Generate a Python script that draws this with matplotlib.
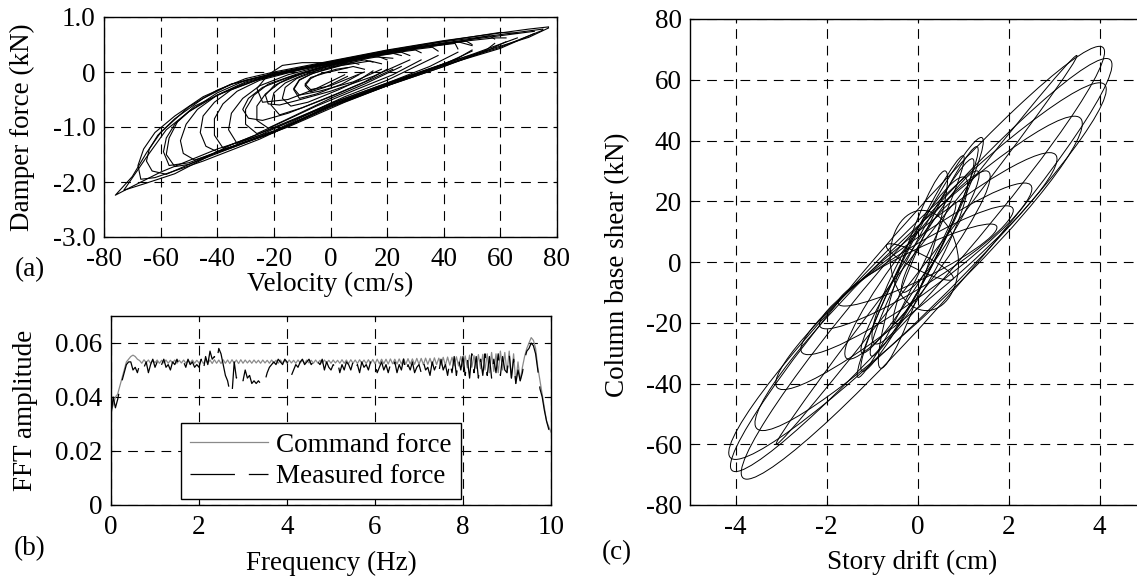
import numpy as np
import matplotlib
matplotlib.use('Agg')
import matplotlib.pyplot as plt
from matplotlib.patches import Ellipse
from matplotlib.transforms import Affine2D

plt.rcParams['font.family'] = ['Liberation Serif', 'DejaVu Serif']
plt.rcParams['axes.unicode_minus'] = False
plt.rcParams['lines.scale_dashes'] = False

# ---------------- (a) damper force vs velocity, loops
damper_v = [
    [77, 70, 60, 40, 20, 0, -20, -30, -40, -50, -60, -65, -70, -76, -70, -60, -40, -20, 0, 20, 40, 60, 70, 77],
    [75, 60, 40, 20, 0, -20, -30, -40, -50, -58, -65, -73, -65, -55, -40, -20, 0, 20, 40, 60, 75],
    [72, 60, 40, 20, 0, -20, -35, -45, -55, -61, -64, -65, -63, -58, -50, -40, -20, 0, 20, 40, 60, 72],
    [66, 60, 40, 20, 0, -20, -35, -45, -55, -62, -66, -68, -67, -62, -45, -25, 0, 25, 50, 66],
    [62, 58, 40, 20, 0, -20, -30, -40, -50, -55, -58, -59, -57, -50, -40, -20, 0, 20, 40, 55, 62],
    [58, 56, 40, 20, 0, -20, -30, -40, -47, -51, -53, -52, -48, -45, -35, -20, 0, 20, 40, 55, 58],
    [50, 45, 30, 10, -10, -25, -38, -48, -54, -57, -58, -55, -50, -35, -15, 5, 25, 45, 50],
    [50, 48, 30, 10, -10, -25, -35, -41, -45, -46, -44, -40, -35, -20, 0, 20, 40, 50],
    [45, 44, 30, 10, -10, -25, -33, -38, -41, -41, -38, -30, -15, 0, 20, 35, 45],
    [38, 36, 20, 0, -15, -25, -31, -35, -36, -33, -25, -10, 5, 20, 32, 38],
    [32, 30, 15, 0, -12, -22, -27, -30, -30, -26, -20, -5, 10, 22, 32],
    [28, 25, 10, -5, -15, -20, -23, -22, -18, -12, 0, 15, 28],
    [25, 22, 10, 0, -10, -18, -23, -26, -26, -22, -15, 0, 12, 25],
    [22, 15, 0, -15, -24, -29, -31, -29, -24, -15, 0, 15, 22],
    [20, 17, 8, -2, -10, -16, -20, -21, -18, -10, 2, 12, 20],
    [18, 14, 4, -6, -11, -13, -11, -4, 8, 18],
    [15, 12, 4, -5, -12, -16, -17, -14, -8, 3, 10, 15],
    [12, 8, -2, -7, -9, -7, 0, 12],
    [10, 8, 0, -7, -11, -13, -11, -5, 4, 10],
    [6, 2, -4, -7, -9, -7, -2, 6],
    [5, -4, -10, -17, -22, -26, -24, -15, -5, 5],
]
damper_f = [
    [0.82, 0.78, 0.71, 0.57, 0.40, 0.20, 0.00, -0.12, -0.33, -0.63, -1.10, -1.47, -1.90, -2.24, -2.08, -1.82, -1.40, -1.07, -0.57, -0.20, 0.15, 0.47, 0.63, 0.80],
    [0.78, 0.68, 0.55, 0.38, 0.18, -0.03, -0.15, -0.38, -0.72, -1.05, -1.55, -2.15, -2.02, -1.85, -1.45, -1.10, -0.60, -0.22, 0.13, 0.45, 0.76],
    [0.74, 0.66, 0.53, 0.37, 0.17, -0.04, -0.22, -0.48, -0.85, -1.15, -1.40, -1.62, -1.80, -1.86, -1.68, -1.45, -1.08, -0.62, -0.24, 0.12, 0.43, 0.70],
    [0.70, 0.72, 0.56, 0.39, 0.19, -0.02, -0.22, -0.45, -0.80, -1.10, -1.40, -1.70, -1.95, -1.92, -1.62, -1.22, -0.62, -0.12, 0.32, 0.62],
    [0.62, 0.62, 0.52, 0.36, 0.16, -0.05, -0.18, -0.42, -0.72, -0.95, -1.20, -1.45, -1.70, -1.65, -1.45, -1.10, -0.64, -0.25, 0.10, 0.38, 0.55],
    [0.60, 0.66, 0.50, 0.35, 0.15, -0.06, -0.20, -0.42, -0.68, -0.95, -1.25, -1.48, -1.60, -1.55, -1.38, -1.08, -0.62, -0.25, 0.10, 0.40, 0.52],
    [0.48, 0.55, 0.45, 0.28, 0.07, -0.13, -0.38, -0.62, -0.90, -1.20, -1.50, -1.72, -1.68, -1.38, -1.00, -0.55, -0.15, 0.25, 0.40],
    [0.50, 0.56, 0.44, 0.27, 0.06, -0.12, -0.32, -0.55, -0.80, -1.10, -1.35, -1.45, -1.32, -1.02, -0.60, -0.22, 0.14, 0.38],
    [0.42, 0.52, 0.43, 0.26, 0.05, -0.15, -0.35, -0.58, -0.85, -1.15, -1.38, -1.22, -0.90, -0.58, -0.20, 0.10, 0.36],
    [0.38, 0.45, 0.35, 0.15, -0.05, -0.25, -0.48, -0.75, -1.05, -1.30, -1.15, -0.80, -0.45, -0.15, 0.15, 0.30],
    [0.35, 0.40, 0.30, 0.14, -0.04, -0.22, -0.42, -0.68, -0.95, -1.12, -0.98, -0.62, -0.30, -0.05, 0.22],
    [0.30, 0.36, 0.24, 0.06, -0.12, -0.25, -0.42, -0.58, -0.60, -0.52, -0.35, -0.08, 0.22],
    [0.30, 0.34, 0.25, 0.13, -0.03, -0.20, -0.40, -0.62, -0.88, -1.02, -0.85, -0.48, -0.22, 0.10],
    [0.25, 0.28, 0.12, -0.10, -0.28, -0.48, -0.68, -0.84, -0.88, -0.75, -0.45, -0.12, 0.05],
    [0.22, 0.28, 0.20, 0.08, -0.06, -0.20, -0.38, -0.60, -0.78, -0.65, -0.40, -0.18, 0.05],
    [0.15, 0.20, 0.12, -0.02, -0.14, -0.30, -0.42, -0.35, -0.18, 0.05],
    [0.18, 0.22, 0.14, 0.02, -0.12, -0.28, -0.48, -0.62, -0.55, -0.32, -0.15, 0.02],
    [0.05, 0.10, -0.02, -0.10, -0.22, -0.32, -0.25, 0.00],
    [0.14, 0.17, 0.08, -0.04, -0.15, -0.32, -0.48, -0.40, -0.22, -0.05],
    [0.08, 0.05, -0.04, -0.12, -0.25, -0.36, -0.28, -0.08],
    [0.15, 0.17, 0.17, 0.12, -0.05, -0.30, -0.55, -0.50, -0.30, -0.05],
]
vel_ticks = [-80, -60, -40, -20, 0, 20, 40, 60, 80]
force_ticks = [-3, -2, -1, 0, 1]
force_labels = ['-3.0', '-2.0', '-1.0', '0', '1.0']

# ---------------- (b) FFT amplitude, sampled every 0.05 Hz from 0 to 10 Hz
freq_step = 0.05
command_amp = [
    0.035, 0.037, 0.040, 0.041, 0.044, 0.047, 0.050, 0.053, 0.054, 0.055,
    0.0555, 0.055, 0.054, 0.0535, 0.0525, 0.0538, 0.0527, 0.0537, 0.0525, 0.0536,
    0.0527, 0.0537, 0.0525, 0.0536, 0.0526, 0.0537, 0.0525, 0.0536, 0.0526, 0.0537,
    0.0525, 0.0536, 0.0526, 0.0537, 0.0525, 0.0536, 0.0526, 0.0537, 0.0525, 0.0536,
    0.0526, 0.0537, 0.0524, 0.0538, 0.0525, 0.0537, 0.0524, 0.0538, 0.0525, 0.0537,
    0.0524, 0.0538, 0.0525, 0.0537, 0.0524, 0.0538, 0.0525, 0.0537, 0.0524, 0.0538,
    0.0525, 0.0537, 0.0526, 0.0536, 0.0525, 0.0537, 0.0526, 0.0536, 0.0525, 0.0537,
    0.0526, 0.0536, 0.0525, 0.0537, 0.0526, 0.0536, 0.0525, 0.0537, 0.0526, 0.0536,
    0.0525, 0.0537, 0.0526, 0.0536, 0.0525, 0.0537, 0.0526, 0.0536, 0.0525, 0.0537,
    0.0526, 0.0536, 0.0525, 0.0537, 0.0526, 0.0536, 0.0525, 0.0537, 0.0526, 0.0536,
    0.0525, 0.0537, 0.0526, 0.0536, 0.0525, 0.0538, 0.0525, 0.0537, 0.0524, 0.0538,
    0.0525, 0.0537, 0.0524, 0.0538, 0.0525, 0.0537, 0.0524, 0.0538, 0.0524, 0.0539,
    0.0523, 0.0540, 0.0523, 0.0540, 0.0523, 0.0540, 0.0522, 0.0541, 0.0523, 0.0540,
    0.0522, 0.0541, 0.0522, 0.0542, 0.0521, 0.0542, 0.0522, 0.0541, 0.0521, 0.0543,
    0.0521, 0.0543, 0.0520, 0.0544, 0.0521, 0.0543, 0.0519, 0.0545, 0.0520, 0.0544,
    0.0518, 0.0547, 0.0517, 0.0548, 0.0518, 0.0547, 0.0516, 0.0549, 0.0515, 0.0550,
    0.0512, 0.0552, 0.0508, 0.0555, 0.0510, 0.0553, 0.0506, 0.0557, 0.0505, 0.0558,
    0.0500, 0.0560, 0.0490, 0.0565, 0.0495, 0.0560, 0.0490, 0.0570, 0.0500, 0.0565,
    0.0490, 0.0570, 0.0470, 0.0560, 0.0450, 0.0530, 0.0460, 0.0510, 0.0550, 0.0580,
    0.0600, 0.0620, 0.0610, 0.0580, 0.0510, 0.0460, 0.0410, 0.0360, 0.0310, 0.0290,
    0.0270,
]
measured_amp = [
    0.033, 0.040, 0.036, 0.039, 0.043, 0.046, 0.049, 0.052, 0.053, 0.053,
    0.050, 0.051, 0.049, 0.052, 0.050, 0.051, 0.053, 0.049, 0.052, 0.054,
    0.051, 0.053, 0.050, 0.052, 0.054, 0.051, 0.052, 0.050, 0.053, 0.052,
    0.054, 0.051, 0.052, 0.053, 0.051, 0.054, 0.052, 0.053, 0.051, 0.052,
    0.051, 0.054, 0.050, 0.055, 0.052, 0.057, 0.054, 0.055, 0.053, 0.058,
    0.056, 0.052, 0.048, 0.046, 0.042, 0.041, 0.053, 0.047, 0.049, 0.048,
    0.046, 0.050, 0.047, 0.048, 0.045, 0.046, 0.045, 0.046, 0.045, 0.047,
    0.046, 0.049, 0.051, 0.052, 0.053, 0.052, 0.054, 0.053, 0.052, 0.054,
    0.053, 0.052, 0.048, 0.050, 0.052, 0.051, 0.053, 0.054, 0.052, 0.053,
    0.054, 0.052, 0.053, 0.051, 0.053, 0.052, 0.054, 0.050, 0.053, 0.051,
    0.050, 0.052, 0.051, 0.053, 0.049, 0.052, 0.050, 0.053, 0.052, 0.050,
    0.053, 0.050, 0.052, 0.049, 0.053, 0.051, 0.052, 0.050, 0.053, 0.051,
    0.052, 0.049, 0.051, 0.053, 0.050, 0.052, 0.049, 0.052, 0.050, 0.053,
    0.049, 0.052, 0.050, 0.054, 0.049, 0.052, 0.050, 0.053, 0.049, 0.051,
    0.052, 0.049, 0.053, 0.050, 0.051, 0.048, 0.053, 0.050, 0.052, 0.049,
    0.054, 0.050, 0.052, 0.048, 0.053, 0.049, 0.055, 0.048, 0.054, 0.050,
    0.055, 0.048, 0.054, 0.047, 0.056, 0.049, 0.055, 0.047, 0.054, 0.048,
    0.056, 0.048, 0.055, 0.047, 0.054, 0.049, 0.056, 0.048, 0.055, 0.050,
    0.049, 0.056, 0.047, 0.054, 0.045, 0.050, 0.046, 0.049, 0.054, 0.057,
    0.058, 0.060, 0.059, 0.056, 0.050, 0.043, 0.040, 0.035, 0.031, 0.028,
    0.027,
]
freq_ticks = [0, 2, 4, 6, 8, 10]
amp_ticks = [0, 0.02, 0.04, 0.06]
amp_labels = ['0', '0.02', '0.04', '0.06']

# ---------------- (c) base shear vs drift: loop tips (top, bottom) and half width in drift
loop_top_x = [4.0, 4.15, 4.0, 3.45, 2.9, 2.35, 1.95, 1.6, 3.5, 1.4, 1.2, 1.0, 0.1, -0.6, 1.5, 0.8, 1.3, 1.0, 0.6, 1.3]
loop_top_y = [71, 67, 59, 48, 36, 26, 18.5, 12.5, 68, 41, 34, 28, 17, 6, 30, 20, 38, 35, 30, 30]
loop_bot_x = [-4.0, -3.75, -4.0, -3.4, -2.95, -2.4, -2.0, -1.6, -3.1, -1.2, -1.0, -0.9, 0.2, 0.7, -1.5, -1.2, -0.5, -1.3, -0.8, -0.3]
loop_bot_y = [-69, -71.5, -65, -55.5, -42, -30.5, -22, -14.5, -60, -36, -31, -27, -16, -6, -32, -30, -20, -38, -35, -10]
loop_half_w = [0.95, 1.0, 1.1, 1.1, 1.0, 0.9, 0.8, 0.7, 0.2, 0.35, 0.3, 0.45, 0.75, 0.35, 0.55, 0.3, 0.25, 0.25, 0.3, 0.3]
drift_ticks = [-4, -2, 0, 2, 4]
shear_ticks = [-80, -60, -40, -20, 0, 20, 40, 60, 80]

W, H = 1137, 580
fig = plt.figure(figsize=(W / 100, H / 100), dpi=100)
ax_a = fig.add_axes([104 / W, 1 - 237 / H, 453 / W, 220 / H])
ax_b = fig.add_axes([111 / W, 75 / H, 440 / W, 189 / H])
ax_c = fig.add_axes([690 / W, 75 / H, 455 / W, 486 / H])

tick_fs = 19.5
label_fs = 19.5


def style(ax):
    ax.grid(True, color='black', linestyle=(0, (7, 5)), linewidth=0.8)
    ax.set_axisbelow(True)
    ax.tick_params(direction='in', length=3, top=True, right=True,
                   labelsize=tick_fs, width=0.8)
    ax.tick_params(axis='x', pad=7)
    ax.tick_params(axis='y', pad=6)
    for s in ax.spines.values():
        s.set_linewidth(1.0)


# (a)
for v, f in zip(damper_v, damper_f):
    ax_a.plot(v, f, color='black', lw=0.8)
ax_a.set_xlim(-80, 80)
ax_a.set_ylim(-3, 1)
ax_a.set_xticks(vel_ticks)
ax_a.set_yticks(force_ticks)
ax_a.set_yticklabels(force_labels)
style(ax_a)
ax_a.set_xlabel('Velocity (cm/s)', fontsize=label_fs, va='center')
ax_a.set_ylabel('Damper force (kN)', fontsize=label_fs, va='center')
ax_a.xaxis.set_label_coords(0.5, -0.215)
ax_a.yaxis.set_label_coords(-0.181, 0.5)

# (b)
freq = np.arange(len(command_amp)) * freq_step
ax_b.plot(freq, command_amp, color='#8a8a8a', lw=0.9, label='Command force')
ax_b.plot(freq, measured_amp, color='black', lw=0.9, linestyle=(0, (32, 10)),
          label='Measured force')
ax_b.set_xlim(0, 10)
ax_b.set_ylim(0, 0.07)
ax_b.set_xticks(freq_ticks)
ax_b.set_yticks(amp_ticks)
ax_b.set_yticklabels(amp_labels)
style(ax_b)
ax_b.set_xlabel('Frequency (Hz)', fontsize=label_fs, va='center')
ax_b.set_ylabel('FFT amplitude', fontsize=label_fs, va='center')
ax_b.xaxis.set_label_coords(0.5, -0.307)
ax_b.yaxis.set_label_coords(-0.195, 0.5)
leg = ax_b.legend(loc='lower left', bbox_to_anchor=(0.159, 0.032), fontsize=label_fs,
                  fancybox=False, framealpha=1, edgecolor='black', borderaxespad=0,
                  handlelength=2.85, handletextpad=0.3, labelspacing=0.25, borderpad=0.35)
leg.get_frame().set_linewidth(1.0)

# (c)
for tx, ty, bx, by, w in zip(loop_top_x, loop_top_y, loop_bot_x, loop_bot_y, loop_half_w):
    cx, cy = (tx + bx) / 2, (ty + by) / 2
    tr = Affine2D.from_values((tx - bx) / 2, (ty - by) / 2, w, 0, cx, cy)
    ax_c.add_patch(Ellipse((0, 0), 2, 2, fill=False, edgecolor='black', lw=0.7,
                           transform=tr + ax_c.transData))
ax_c.set_xlim(-5, 5)
ax_c.set_ylim(-80, 80)
ax_c.set_xticks(drift_ticks)
ax_c.set_yticks(shear_ticks)
style(ax_c)
ax_c.set_xlabel('Story drift (cm)', fontsize=label_fs, va='center')
ax_c.set_ylabel('Column base shear (kN)', fontsize=label_fs, va='center')
ax_c.xaxis.set_label_coords(0.488, -0.119)
ax_c.yaxis.set_label_coords(-0.160, 0.494)

fig.text(30 / W, 1 - 270 / H, '(a)', fontsize=label_fs, ha='center', va='center')
fig.text(30 / W, 1 - 549 / H, '(b)', fontsize=label_fs, ha='center', va='center')
fig.text(617 / W, 1 - 553 / H, '(c)', fontsize=label_fs, ha='center', va='center')

fig.savefig('out.png', dpi=100)
